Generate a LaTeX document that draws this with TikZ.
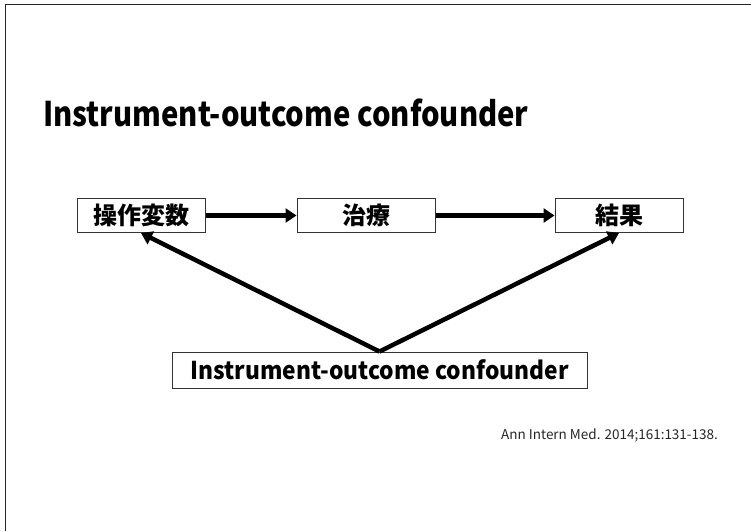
\documentclass[tikz,border=0pt]{standalone}
\usepackage{fontspec}
\setmainfont{Noto Sans CJK JP}
\newfontfamily\titlefont{Noto Sans CJK JP}[FakeStretch=0.86]
\newfontfamily\boxfont{Noto Sans CJK JP}[FakeStretch=0.93]
\usetikzlibrary{positioning}
\usetikzlibrary{arrows.meta}
\tikzset {
  % boxed variables of the diagram
  var/.style = {draw=black!80, line width=1pt, minimum height=34pt, inner sep=0pt,
    font=\bfseries\fontsize{24}{24}\selectfont},
  % thick causal arrows
  cause/.style = {line width=4.5pt, -{Triangle[length=11pt, width=14pt]}},
}
\begin{document}
\begin{tikzpicture}[x=1pt, y=-1pt]
        \useasboundingbox (0,0) rectangle (751,531);
        \draw[line width=1.5pt, black!85] (5.5,531) -- (5.5,4.5) -- (751,4.5);

        \node[anchor=base west, inner sep=0pt, font=\titlefont\bfseries\fontsize{34}{34}\selectfont] (title) at (43,126) {Instrument-outcome confounder};

        \node[var, minimum width=128pt] (iv) at (141,215.5) {操作変数};
        \node[var, minimum width=138pt] (tx) [right=91pt of iv] {治療};
        \node[var, minimum width=128pt] (out) [right=119pt of tx] {結果};
        \node[var, minimum width=415pt, minimum height=36pt, font=\boxfont\bfseries\fontsize{24.5}{24.5}\selectfont] (conf) at (379.5,370) {Instrument-outcome confounder};

        \draw[cause] (iv) -- (tx);
        \draw[cause] (tx) -- (out);
        \draw[cause] (conf.north) -- (iv.south);
        \draw[cause] (conf.north) -- (out.south);

        \node[anchor=base west, inner sep=0pt, text=black!85, font=\fontsize{13.5}{13.5}\selectfont] (cite) at (501,439) {Ann Intern Med. 2014;161:131-138.};
      \end{tikzpicture}
\end{document}
